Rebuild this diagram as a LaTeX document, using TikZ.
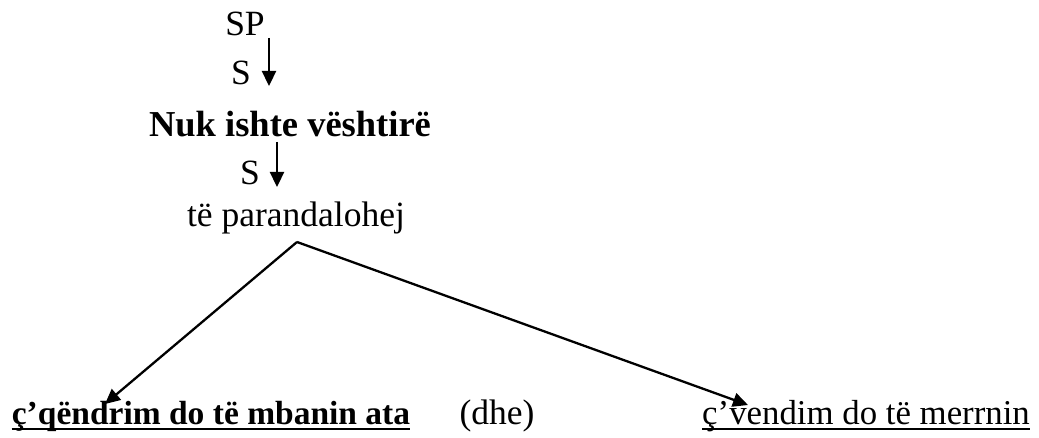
\documentclass[tikz,border=0pt]{standalone}
\usepackage{fontspec}
\setmainfont{Liberation Serif}
\usetikzlibrary{arrows.meta}
\begin{document}
\begin{tikzpicture}[x=1pt,y=-1pt,
  txt/.style={inner sep=0pt, anchor=base, font=\fontsize{35.5}{42}\selectfont},
  bold/.style={txt, font=\fontsize{36.5}{42}\selectfont\bfseries},
  arr/.style={line width=2.3pt, -{Triangle[length=15pt,width=14pt]}},
  uline/.style={line width=1.6pt}]
\useasboundingbox (0,0) rectangle (1039,438);

% upper chain
\node[txt]  (sp)  at (245,36)  {SP};
\node[txt]  (s1)  at (241,85)  {S};
\node[bold] (nuk) at (290,137) {Nuk ishte vështirë};
\node[txt]  (s2)  at (250,185) {S};
\node[txt]  (te)  at (296,227) {të parandalohej};

% bottom row
\node[bold, font=\fontsize{33.5}{40}\selectfont\bfseries] (left) at (211,424) {ç’qëndrim do të mbanin ata};
\node[txt]  (dhe)   at (497,424) {(dhe)};
\node[txt, font=\fontsize{34.8}{42}\selectfont] (right) at (866,424) {ç’vendim do të merrnin};

% underlines
\draw[uline, line width=2.4pt] ([yshift=-5pt]left.base west) -- ([yshift=-5pt]left.base east);
\draw[uline] ([yshift=-5pt]right.base west) -- ([yshift=-5pt]right.base east);

% vertical arrows
\coordinate (a1s) at (269,38);
\coordinate (a1e) at (269,86);
\coordinate (a2s) at (277,142);
\coordinate (a2e) at (277,187);
\draw[arr] (a1s) -- (a1e);
\draw[arr] (a2s) -- (a2e);

% branching arrows
\coordinate (apex) at (297,242);
\coordinate (tipL) at (105,404);
\coordinate (tipR) at (748,405);
\draw[arr] (apex) -- (tipL);
\draw[arr] (apex) -- (tipR);
\end{tikzpicture}
\end{document}
